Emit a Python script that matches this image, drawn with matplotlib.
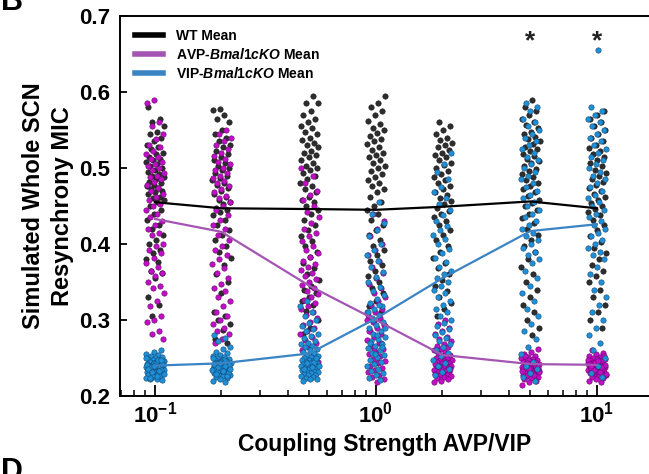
import numpy as np
import matplotlib
matplotlib.use("Agg")
import matplotlib.pyplot as plt
from matplotlib.lines import Line2D

plt.rcParams['font.family'] = ['Liberation Sans', 'DejaVu Sans']
plt.rcParams['font.weight'] = 'bold'
plt.rcParams['mathtext.fontset'] = 'custom'
plt.rcParams['mathtext.rm'] = 'Liberation Sans:bold'
plt.rcParams['mathtext.it'] = 'Liberation Sans:italic:bold'
plt.rcParams['mathtext.bf'] = 'Liberation Sans:bold'

# ---------------- data ----------------
coupling = [0.1, 0.2, 0.5, 1.0, 2.0, 5.0, 10.0]

wt_mean = [0.455, 0.447, 0.446, 0.445, 0.449, 0.456, 0.447]
avp_mean = [0.433, 0.416, 0.345, 0.300, 0.254, 0.242, 0.241]
vip_mean = [0.240, 0.243, 0.256, 0.302, 0.355, 0.417, 0.426]

star_positions = [5.0, 10.0]

wt_01 = [0.580, 0.565, 0.560, 0.555, 0.548, 0.545, 0.540, 0.535, 0.530, 0.528, 0.525, 0.520, 0.518, 0.515, 0.512, 0.510, 0.508, 0.505, 0.502, 0.500, 0.498, 0.495, 0.492, 0.490, 0.488, 0.485, 0.482, 0.480, 0.478, 0.476, 0.474, 0.472, 0.470, 0.468, 0.466, 0.462, 0.460, 0.458, 0.455, 0.450, 0.445, 0.440, 0.432, 0.425, 0.420, 0.412, 0.405, 0.400, 0.392, 0.388, 0.380, 0.376, 0.365, 0.362, 0.355, 0.330, 0.320, 0.305]
avp_01 = [0.590, 0.585, 0.560, 0.555, 0.545, 0.538, 0.530, 0.527, 0.522, 0.518, 0.515, 0.512, 0.508, 0.505, 0.502, 0.500, 0.497, 0.494, 0.490, 0.488, 0.485, 0.481, 0.478, 0.474, 0.470, 0.466, 0.462, 0.458, 0.452, 0.450, 0.445, 0.440, 0.435, 0.430, 0.425, 0.420, 0.415, 0.412, 0.400, 0.398, 0.392, 0.388, 0.382, 0.375, 0.370, 0.365, 0.362, 0.358, 0.350, 0.345, 0.342, 0.335, 0.325, 0.318, 0.305, 0.300, 0.298, 0.285, 0.282, 0.275]
vip_01 = [0.260, 0.258, 0.255, 0.254, 0.252, 0.251, 0.250, 0.249, 0.248, 0.247, 0.246, 0.245, 0.245, 0.244, 0.243, 0.242, 0.242, 0.241, 0.240, 0.240, 0.239, 0.239, 0.238, 0.238, 0.237, 0.237, 0.236, 0.236, 0.235, 0.235, 0.234, 0.234, 0.233, 0.233, 0.232, 0.232, 0.231, 0.230, 0.230, 0.229, 0.228, 0.227, 0.226, 0.225, 0.224, 0.223, 0.222, 0.221, 0.243, 0.241, 0.239, 0.237, 0.246, 0.244, 0.236, 0.234, 0.228, 0.250, 0.248, 0.238, 0.242, 0.240, 0.235, 0.233, 0.231, 0.229, 0.226, 0.224, 0.247, 0.239]

wt_02 = [0.577, 0.576, 0.570, 0.565, 0.560, 0.550, 0.545, 0.540, 0.535, 0.530, 0.527, 0.522, 0.518, 0.515, 0.510, 0.507, 0.503, 0.500, 0.497, 0.494, 0.490, 0.487, 0.484, 0.480, 0.477, 0.474, 0.470, 0.466, 0.462, 0.458, 0.455, 0.452, 0.448, 0.445, 0.442, 0.438, 0.432, 0.425, 0.418, 0.412, 0.405, 0.398, 0.390, 0.382, 0.372, 0.360, 0.350, 0.335, 0.310, 0.305, 0.300, 0.295, 0.287, 0.275, 0.270]
avp_02 = [0.550, 0.545, 0.540, 0.535, 0.530, 0.525, 0.520, 0.516, 0.512, 0.508, 0.505, 0.500, 0.497, 0.494, 0.490, 0.487, 0.483, 0.480, 0.476, 0.472, 0.468, 0.463, 0.460, 0.455, 0.450, 0.445, 0.438, 0.432, 0.425, 0.420, 0.412, 0.405, 0.398, 0.392, 0.385, 0.380, 0.374, 0.368, 0.362, 0.355, 0.348, 0.342, 0.338, 0.330, 0.325, 0.318, 0.310, 0.305, 0.300, 0.295, 0.290, 0.286, 0.282, 0.275, 0.270]
vip_02 = [0.280, 0.276, 0.272, 0.265, 0.262, 0.258, 0.256, 0.254, 0.252, 0.251, 0.250, 0.249, 0.248, 0.247, 0.246, 0.245, 0.244, 0.244, 0.243, 0.242, 0.241, 0.240, 0.240, 0.239, 0.238, 0.238, 0.237, 0.236, 0.235, 0.235, 0.234, 0.233, 0.232, 0.231, 0.230, 0.229, 0.228, 0.227, 0.226, 0.225, 0.224, 0.222, 0.220, 0.218, 0.243, 0.241, 0.239, 0.237, 0.246, 0.236, 0.234, 0.248, 0.232, 0.230, 0.245, 0.242, 0.240, 0.238, 0.236, 0.233, 0.229, 0.226, 0.244, 0.250]

wt_05 = [0.595, 0.585, 0.585, 0.575, 0.570, 0.565, 0.560, 0.555, 0.552, 0.548, 0.545, 0.540, 0.537, 0.533, 0.530, 0.527, 0.523, 0.520, 0.517, 0.514, 0.510, 0.507, 0.503, 0.500, 0.497, 0.494, 0.490, 0.485, 0.480, 0.476, 0.472, 0.468, 0.462, 0.458, 0.455, 0.450, 0.445, 0.440, 0.432, 0.425, 0.418, 0.410, 0.404, 0.398, 0.390, 0.383, 0.375, 0.368, 0.360, 0.352, 0.345, 0.340, 0.335, 0.330, 0.325, 0.320, 0.312, 0.300, 0.290, 0.282]
avp_05 = [0.500, 0.490, 0.480, 0.470, 0.465, 0.458, 0.450, 0.442, 0.435, 0.428, 0.420, 0.415, 0.410, 0.404, 0.398, 0.392, 0.388, 0.383, 0.378, 0.374, 0.370, 0.366, 0.362, 0.358, 0.354, 0.350, 0.346, 0.342, 0.338, 0.334, 0.330, 0.326, 0.322, 0.318, 0.314, 0.310, 0.306, 0.302, 0.298, 0.294, 0.290, 0.286, 0.282, 0.278, 0.274, 0.270, 0.265, 0.260, 0.255, 0.250, 0.245, 0.240, 0.235, 0.228]
vip_05 = [0.325, 0.318, 0.310, 0.305, 0.300, 0.296, 0.292, 0.288, 0.285, 0.282, 0.279, 0.276, 0.273, 0.270, 0.268, 0.266, 0.264, 0.262, 0.260, 0.258, 0.256, 0.254, 0.252, 0.251, 0.250, 0.249, 0.248, 0.247, 0.246, 0.245, 0.244, 0.243, 0.242, 0.241, 0.240, 0.239, 0.238, 0.237, 0.236, 0.235, 0.234, 0.233, 0.232, 0.231, 0.230, 0.229, 0.228, 0.227, 0.226, 0.225, 0.224, 0.223, 0.222, 0.220, 0.245, 0.243, 0.240, 0.238, 0.235, 0.250]

wt_1 = [0.595, 0.585, 0.580, 0.575, 0.570, 0.562, 0.558, 0.553, 0.550, 0.546, 0.542, 0.538, 0.535, 0.532, 0.528, 0.524, 0.520, 0.517, 0.514, 0.510, 0.506, 0.503, 0.500, 0.496, 0.492, 0.488, 0.484, 0.480, 0.476, 0.472, 0.468, 0.462, 0.455, 0.450, 0.445, 0.440, 0.432, 0.425, 0.418, 0.412, 0.405, 0.398, 0.392, 0.385, 0.378, 0.372, 0.365, 0.358, 0.350, 0.342, 0.335, 0.325, 0.318, 0.310, 0.300, 0.292]
avp_1 = [0.440, 0.430, 0.420, 0.410, 0.400, 0.392, 0.385, 0.378, 0.370, 0.362, 0.355, 0.348, 0.342, 0.336, 0.330, 0.325, 0.320, 0.315, 0.310, 0.306, 0.302, 0.298, 0.294, 0.290, 0.286, 0.282, 0.278, 0.274, 0.270, 0.266, 0.262, 0.258, 0.255, 0.252, 0.249, 0.246, 0.243, 0.240, 0.237, 0.234, 0.231, 0.228, 0.225, 0.222, 0.218, 0.285, 0.270, 0.260, 0.300, 0.245]
vip_1 = [0.455, 0.440, 0.428, 0.418, 0.410, 0.400, 0.392, 0.385, 0.378, 0.370, 0.363, 0.356, 0.350, 0.344, 0.338, 0.333, 0.328, 0.323, 0.318, 0.314, 0.310, 0.306, 0.302, 0.298, 0.294, 0.290, 0.286, 0.282, 0.278, 0.275, 0.272, 0.269, 0.266, 0.263, 0.260, 0.257, 0.254, 0.251, 0.248, 0.245, 0.242, 0.239, 0.236, 0.233, 0.230, 0.227, 0.224, 0.221, 0.300, 0.290, 0.280, 0.270, 0.265, 0.255, 0.310, 0.320]

wt_2 = [0.560, 0.555, 0.550, 0.545, 0.540, 0.537, 0.533, 0.530, 0.527, 0.524, 0.520, 0.517, 0.514, 0.510, 0.507, 0.504, 0.500, 0.496, 0.492, 0.488, 0.484, 0.480, 0.476, 0.472, 0.468, 0.464, 0.460, 0.456, 0.452, 0.448, 0.444, 0.440, 0.435, 0.430, 0.425, 0.418, 0.412, 0.405, 0.398, 0.390, 0.382, 0.375, 0.368, 0.360, 0.352, 0.345, 0.338, 0.330, 0.322, 0.315, 0.305]
avp_2 = [0.300, 0.295, 0.290, 0.286, 0.282, 0.278, 0.275, 0.272, 0.269, 0.266, 0.264, 0.262, 0.260, 0.258, 0.256, 0.254, 0.252, 0.250, 0.249, 0.248, 0.247, 0.246, 0.245, 0.244, 0.243, 0.242, 0.241, 0.240, 0.239, 0.238, 0.237, 0.236, 0.235, 0.234, 0.233, 0.232, 0.231, 0.230, 0.229, 0.228, 0.227, 0.226, 0.225, 0.224, 0.222, 0.220, 0.218, 0.245, 0.240, 0.236]
vip_2 = [0.520, 0.505, 0.495, 0.485, 0.475, 0.468, 0.460, 0.452, 0.445, 0.438, 0.430, 0.424, 0.418, 0.412, 0.406, 0.400, 0.394, 0.388, 0.382, 0.376, 0.370, 0.365, 0.360, 0.355, 0.350, 0.345, 0.340, 0.335, 0.330, 0.325, 0.320, 0.315, 0.310, 0.305, 0.300, 0.296, 0.292, 0.288, 0.284, 0.280, 0.276, 0.272, 0.268, 0.264, 0.260, 0.256, 0.252, 0.248, 0.244, 0.240, 0.236, 0.232, 0.228]

wt_5 = [0.590, 0.580, 0.575, 0.570, 0.565, 0.560, 0.556, 0.552, 0.548, 0.545, 0.541, 0.538, 0.535, 0.532, 0.528, 0.525, 0.522, 0.519, 0.516, 0.512, 0.509, 0.506, 0.502, 0.499, 0.496, 0.492, 0.488, 0.484, 0.480, 0.476, 0.472, 0.468, 0.463, 0.458, 0.454, 0.450, 0.445, 0.440, 0.434, 0.428, 0.420, 0.412, 0.405, 0.398, 0.390, 0.380, 0.370, 0.360, 0.350, 0.340, 0.330, 0.320, 0.310, 0.300, 0.290, 0.280]
avp_5 = [0.262, 0.258, 0.255, 0.253, 0.251, 0.250, 0.249, 0.248, 0.247, 0.246, 0.245, 0.244, 0.243, 0.242, 0.241, 0.240, 0.240, 0.239, 0.238, 0.238, 0.237, 0.236, 0.236, 0.235, 0.234, 0.233, 0.233, 0.232, 0.231, 0.230, 0.229, 0.228, 0.227, 0.226, 0.225, 0.224, 0.222, 0.220, 0.218, 0.215, 0.243, 0.241, 0.239, 0.237, 0.235, 0.245, 0.247, 0.232, 0.230, 0.252, 0.240, 0.236, 0.233, 0.228, 0.244, 0.238]
vip_5 = [0.585, 0.580, 0.575, 0.565, 0.560, 0.555, 0.550, 0.545, 0.540, 0.535, 0.530, 0.525, 0.520, 0.515, 0.510, 0.505, 0.500, 0.495, 0.490, 0.485, 0.480, 0.475, 0.470, 0.465, 0.460, 0.455, 0.450, 0.445, 0.440, 0.435, 0.430, 0.425, 0.420, 0.415, 0.410, 0.405, 0.400, 0.395, 0.390, 0.385, 0.380, 0.375, 0.365, 0.355, 0.345, 0.335, 0.325, 0.315, 0.305, 0.295, 0.285, 0.275, 0.265, 0.255, 0.245, 0.240, 0.235, 0.230, 0.225, 0.220]

wt_10 = [0.575, 0.570, 0.565, 0.560, 0.555, 0.550, 0.545, 0.540, 0.535, 0.530, 0.526, 0.522, 0.518, 0.514, 0.510, 0.506, 0.502, 0.498, 0.494, 0.490, 0.486, 0.482, 0.478, 0.474, 0.470, 0.466, 0.462, 0.458, 0.454, 0.450, 0.446, 0.442, 0.438, 0.432, 0.425, 0.418, 0.410, 0.402, 0.395, 0.388, 0.380, 0.372, 0.365, 0.358, 0.350, 0.340, 0.330, 0.320, 0.310, 0.300, 0.290]
avp_10 = [0.260, 0.257, 0.255, 0.253, 0.251, 0.250, 0.249, 0.248, 0.247, 0.246, 0.245, 0.244, 0.243, 0.242, 0.241, 0.240, 0.240, 0.239, 0.238, 0.238, 0.237, 0.236, 0.236, 0.235, 0.234, 0.233, 0.233, 0.232, 0.231, 0.230, 0.229, 0.228, 0.227, 0.226, 0.225, 0.224, 0.222, 0.220, 0.219, 0.243, 0.241, 0.239, 0.237, 0.235, 0.245, 0.247, 0.232, 0.230, 0.252, 0.249, 0.242, 0.238, 0.234, 0.229, 0.246, 0.240]
vip_10 = [0.655, 0.580, 0.575, 0.570, 0.565, 0.560, 0.555, 0.550, 0.545, 0.540, 0.535, 0.530, 0.525, 0.520, 0.515, 0.510, 0.505, 0.500, 0.495, 0.490, 0.485, 0.480, 0.475, 0.470, 0.465, 0.460, 0.455, 0.450, 0.445, 0.440, 0.435, 0.430, 0.425, 0.420, 0.415, 0.410, 0.405, 0.400, 0.395, 0.390, 0.385, 0.380, 0.370, 0.360, 0.350, 0.340, 0.330, 0.320, 0.310, 0.300, 0.290, 0.280, 0.270, 0.260, 0.250, 0.240, 0.230, 0.225]

wt_groups = [wt_01, wt_02, wt_05, wt_1, wt_2, wt_5, wt_10]
avp_groups = [avp_01, avp_02, avp_05, avp_1, avp_2, avp_5, avp_10]
vip_groups = [vip_01, vip_02, vip_05, vip_1, vip_2, vip_5, vip_10]

series_labels = ['WT Mean', r'AVP-$\mathit{Bmal1cKO}$ Mean', r'VIP-$\mathit{Bmal1cKO}$ Mean']

# ---------------- style ----------------
pt_colors = ['#2e2e2e', '#c010c4', '#1f8fd6']
pt_edges = ['#111111', '#6a0070', '#124a7a']
line_colors = ['#000000', '#a455b4', '#3b84c4']

fig = plt.figure(figsize=(6.49, 4.74), dpi=100)
ax = fig.add_axes([120/649, 78/474, 529/649, 380/474])

JIT = 0.042  # half-width of jitter in decades


def jitter_x(xc, n, phase):
    k = np.arange(n)
    frac = (k * 0.6180339887 + phase) % 1.0
    return xc * 10 ** ((frac - 0.5) * 2 * JIT)


phases = [0.13, 0.47, 0.81]
for si, groups in enumerate([wt_groups, avp_groups, vip_groups]):
    for gi, vals in enumerate(groups):
        xs = jitter_x(coupling[gi], len(vals), phases[si] + 0.29 * gi)
        ax.scatter(xs, vals, s=15, c=pt_colors[si], edgecolors=pt_edges[si],
                   linewidths=0.4, zorder=2 + si * 0.1)

for means, col in zip([wt_mean, avp_mean, vip_mean], line_colors):
    ax.plot(coupling, means, color=col, lw=1.6, zorder=5)

for xs in star_positions:
    ax.text(xs, 0.667, '*', ha='center', va='center', fontsize=19,
            fontweight='bold', color='#222222', zorder=6)

ax.set_xscale('log')
ax.set_xlim(10 ** -1.158, 10 ** (-1.158 + 529 / 221))
ax.set_ylim(0.2, 0.7)
ax.set_yticks([0.2, 0.3, 0.4, 0.5, 0.6, 0.7])
ax.set_yticklabels(['0.2', '0.3', '0.4', '0.5', '0.6', '0.7'])

ax.tick_params(axis='y', direction='in', length=5, width=1.3, labelsize=16, pad=7)
ax.tick_params(axis='x', which='major', direction='in', length=8, width=1.3,
               labelsize=16, pad=4)
ax.tick_params(axis='x', which='minor', direction='in', length=4.5, width=1.1)
for lab in ax.get_yticklabels():
    lab.set_fontweight('bold')

for side in ['left', 'bottom', 'top']:
    ax.spines[side].set_linewidth(1.4)
ax.spines['right'].set_visible(False)

ax.set_xlabel('Coupling Strength AVP/VIP', fontsize=16.5, fontweight='bold', labelpad=4)
ax.set_ylabel('Simulated Whole SCN\nResynchrony MIC', fontsize=17, fontweight='bold',
              labelpad=4, linespacing=1.3)

handles = [Line2D([0], [0], color=c, lw=4) for c in line_colors]
leg = ax.legend(handles, series_labels, loc='upper left', frameon=False,
                prop={'weight': 'bold', 'size': 10}, handlelength=2.0,
                handletextpad=1.0, borderaxespad=0.0, borderpad=0.0,
                labelspacing=0.3, bbox_to_anchor=(0.028, 0.966))

fig.text(0.002, 0.995, 'B', fontsize=22, fontweight='bold', va='center', ha='left')
fig.text(0.002, 0.036, 'D', fontsize=22, fontweight='bold', va='top', ha='left')

fig.savefig('out.png', dpi=100)
